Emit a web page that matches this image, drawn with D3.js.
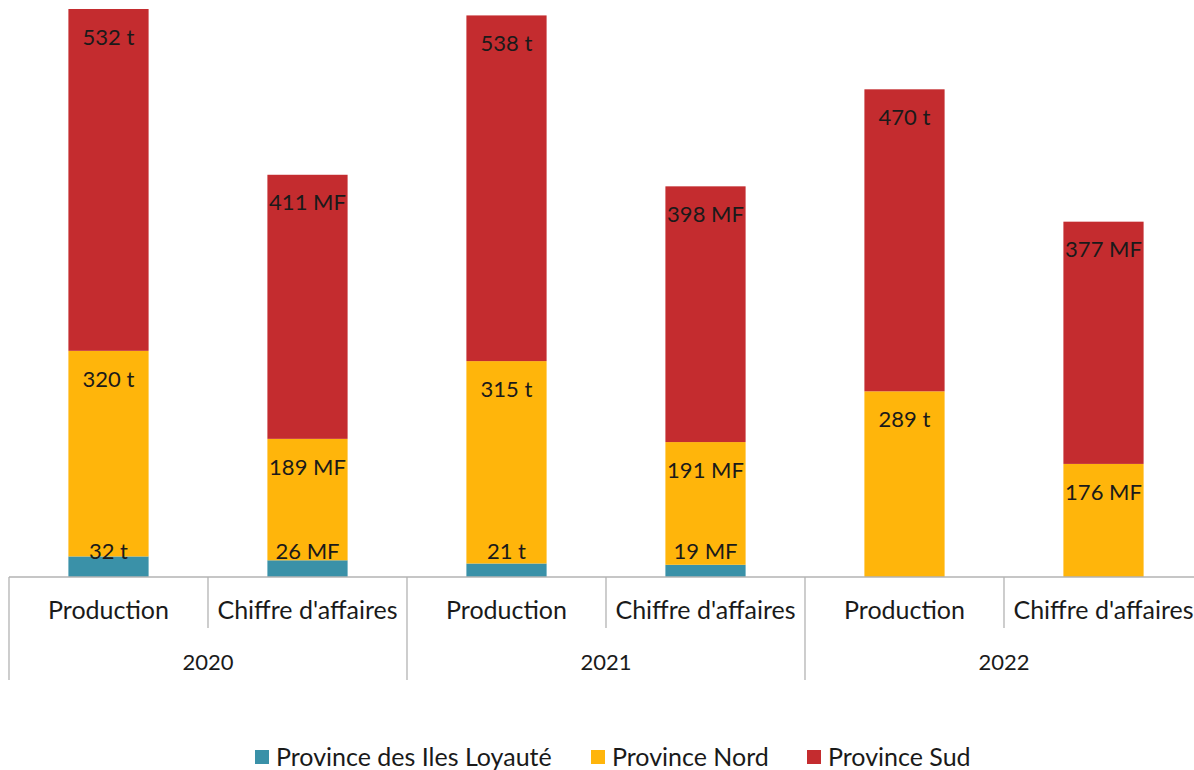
<!DOCTYPE html>
<html>
<head>
<meta charset="utf-8">
<script src="https://cdn.jsdelivr.net/npm/d3@7"></script>
<style>
  body { margin: 0; background: #fff; overflow: hidden; }
  svg text { font-family: Lato, "Open Sans", sans-serif; fill: #1a1a1a; }
</style>
</head>
<body>
<svg id="chart"></svg>
<script>
var width = 1194,
    height = 770;

// data
var years = ["2020", "2021", "2022"];
var measures = ["Production", "Chiffre d'affaires"];
var units = ["t", "MF"];
var series = ["Province des Iles Loyauté", "Province Nord", "Province Sud"];
var colors = ["#3a91a8", "#ffb50b", "#c42c2f"];
var loyaute = [32, 26, 21, 19, 0, 0];
var nord = [320, 189, 315, 191, 289, 176];
var sud = [532, 411, 538, 398, 470, 377];

var chart = d3.select("#chart")
    .attr("width", width)
    .attr("height", height);

// the last category runs a bit past the right edge, as in the original
var plot = { left: 9, right: 1203, top: 0, base: 577 };

var cats = [];
years.forEach(function (y) {
    measures.forEach(function (m, j) {
        cats.push({ year: y, measure: m, unit: units[j], key: y + "|" + m });
    });
});

var rows = cats.map(function (c, i) {
    return { key: c.key, unit: c.unit, v0: loyaute[i], v1: nord[i], v2: sud[i] };
});

var x = d3.scaleBand()
    .domain(cats.map(function (c) { return c.key; }))
    .range([plot.left, plot.right])
    .paddingInner(0)
    .paddingOuter(0);

var barW = x.bandwidth() * 0.403;

var y = d3.scaleLinear()
    .domain([0, 898])
    .range([plot.base, plot.top]);

var stack = d3.stack().keys(["v0", "v1", "v2"]);
var layers = stack(rows);

var groups = chart.selectAll(".layer")
    .data(layers)
    .enter()
    .append("g")
    .attr("class", "layer")
    .style("fill", function (d, i) { return colors[i]; });

groups.selectAll("rect")
    .data(function (d) { return d.filter(function (s) { return s[1] - s[0] > 0; }); })
    .enter()
    .append("rect")
    .attr("x", function (d) { return x(d.data.key) + (x.bandwidth() - barW) / 2; })
    .attr("width", barW)
    .attr("y", function (d) { return y(d[1]); })
    .attr("height", function (d) { return y(d[0]) - y(d[1]); });

// data labels, drawn after all bars
var segs = [];
layers.forEach(function (layer) {
    layer.forEach(function (d) {
        if (d[1] - d[0] > 0) segs.push(d);
    });
});

chart.selectAll(".lbl")
    .data(segs)
    .enter()
    .append("text")
    .attr("class", "lbl")
    .attr("x", function (d) { return x(d.data.key) + x.bandwidth() / 2; })
    .attr("y", function (d) {
        var top = y(d[1]), bot = y(d[0]);
        return bot - top > 60 ? top + 28 : bot - 26;
    })
    .attr("dy", "0.35em")
    .attr("text-anchor", "middle")
    .style("font-size", "22px")
    .text(function (d) { return (d[1] - d[0]) + " " + d.data.unit; });

// axis
var axisColor = "#b3b3b3";
chart.append("line")
    .attr("x1", plot.left).attr("x2", plot.right)
    .attr("y1", plot.base).attr("y2", plot.base)
    .style("stroke", axisColor).style("stroke-width", 1.5);

// separators
cats.forEach(function (c, i) {
    var xs = x(c.key);
    var long = i % 2 === 0;
    chart.append("line")
        .attr("x1", xs).attr("x2", xs)
        .attr("y1", plot.base).attr("y2", long ? 680 : 628)
        .style("stroke", axisColor).style("stroke-width", 1.3);
});

// category labels
chart.selectAll(".cat")
    .data(cats)
    .enter()
    .append("text")
    .attr("class", "cat")
    .attr("x", function (d) { return x(d.key) + x.bandwidth() / 2; })
    .attr("y", 610)
    .attr("dy", "0.35em")
    .attr("text-anchor", "middle")
    .style("font-size", "25px")
    .text(function (d) { return d.measure; });

chart.selectAll(".year")
    .data(years)
    .enter()
    .append("text")
    .attr("class", "year")
    .attr("x", function (d) {
        return (x(d + "|" + measures[0]) + x(d + "|" + measures[1]) + x.bandwidth()) / 2;
    })
    .attr("y", 662)
    .attr("dy", "0.35em")
    .attr("text-anchor", "middle")
    .style("font-size", "22px")
    .text(function (d) { return d; });

// legend
var legendX = [255, 591, 807];
var legend = chart.selectAll(".leg")
    .data(series)
    .enter()
    .append("g")
    .attr("class", "leg")
    .attr("transform", function (d, i) { return "translate(" + legendX[i] + ",757)"; });

legend.append("rect")
    .attr("x", 0).attr("y", -7)
    .attr("width", 14).attr("height", 14)
    .style("fill", function (d, i) { return colors[i]; });

legend.append("text")
    .attr("x", 21)
    .attr("dy", "0.35em")
    .style("font-size", "25px")
    .text(function (d) { return d; });
</script>
</body>
</html>
